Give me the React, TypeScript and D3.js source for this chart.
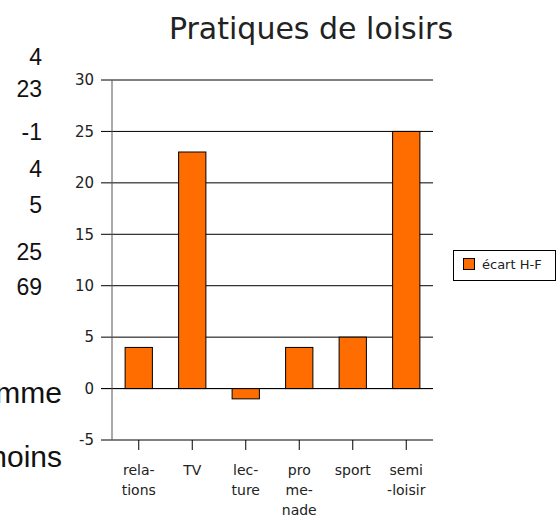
import React, { useEffect, useRef } from 'react';
import * as d3 from 'd3';

// categories (multi-line labels) and the single series
const categories = ['relations', 'TV', 'lecture', 'promenade', 'sport', 'semi-loisir'];
const categoryLines = [['rela-', 'tions'], ['TV'], ['lec-', 'ture'], ['pro', 'me-', 'nade'], ['sport'], ['semi', '-loisir']];
const ecartHF = [4, 23, -1, 4, 5, 25];
const yTicks = [-5, 0, 5, 10, 15, 20, 25, 30];

// spreadsheet cells visible on the left
const sideValues = ['4', '23', '-1', '4', '5', '25', '69'];
const sideWords = ['mme', 'noins'];

const W = 559;
const H = 516;
const font = "'DejaVu Sans', Verdana, sans-serif";

export default function App() {
  const ref = useRef<SVGSVGElement>(null);

  useEffect(() => {
    const svg = d3.select(ref.current);
    svg.selectAll('*').remove();

    // left cells, cut off by the screenshot
    const rowBase = [65, 97, 140, 177, 213, 260, 295];
    svg.append('g')
      .selectAll('text')
      .data(sideValues)
      .enter()
      .append('text')
      .attr('x', 42)
      .attr('y', (d, i) => rowBase[i])
      .attr('text-anchor', 'end')
      .style('font-family', "'Liberation Sans', Arial, sans-serif")
      .style('font-size', '23px')
      .attr('fill', '#111')
      .text(d => d);

    svg.append('g')
      .selectAll('text')
      .data(sideWords)
      .enter()
      .append('text')
      .attr('x', 62)
      .attr('y', (d, i) => [403, 467][i])
      .attr('text-anchor', 'end')
      .style('font-family', "'Liberation Sans', Arial, sans-serif")
      .style('font-size', '30px')
      .attr('fill', '#111')
      .text(d => d);

    const x = d3.scaleBand()
      .domain(categories)
      .range([112, 433])
      .paddingInner(0.49)
      .paddingOuter(0.245);

    const band = d3.scaleBand().domain(categories).range([112, 433]).padding(0);

    const y = d3.scaleLinear().domain([-5, 30]).range([440, 80]);

    // title
    svg.append('text')
      .attr('x', 311)
      .attr('y', 39)
      .attr('text-anchor', 'middle')
      .style('font-family', font)
      .style('font-size', '30px')
      .attr('fill', '#222')
      .text('Pratiques de loisirs');

    // horizontal grid + y ticks
    const grid = svg.append('g');
    grid.selectAll('line')
      .data(yTicks)
      .enter()
      .append('line')
      .attr('x1', 101)
      .attr('x2', 433)
      .attr('y1', d => y(d))
      .attr('y2', d => y(d))
      .attr('stroke', '#000')
      .attr('stroke-width', 1);

    grid.selectAll('text')
      .data(yTicks)
      .enter()
      .append('text')
      .attr('x', 94)
      .attr('y', d => y(d))
      .attr('dy', '0.35em')
      .attr('text-anchor', 'end')
      .style('font-family', font)
      .style('font-size', '15px')
      .attr('fill', '#222')
      .text(d => d);

    // bars
    svg.append('g')
      .selectAll('rect')
      .data(ecartHF)
      .enter()
      .append('rect')
      .attr('x', (d, i) => x(categories[i])!)
      .attr('width', x.bandwidth())
      .attr('y', d => y(Math.max(0, d)))
      .attr('height', d => Math.abs(y(d) - y(0)))
      .attr('fill', '#ff6d00')
      .attr('stroke', '#000')
      .attr('stroke-width', 1);

    // zero line over bars
    svg.append('line')
      .attr('x1', 101).attr('x2', 433)
      .attr('y1', y(0)).attr('y2', y(0))
      .attr('stroke', '#000');

    // y axis line
    svg.append('line')
      .attr('x1', 112).attr('x2', 112)
      .attr('y1', y(30)).attr('y2', y(-5))
      .attr('stroke', '#555');

    // category ticks + labels
    const xa = svg.append('g');
    categories.forEach((c, i) => {
      const cx = band(c)! + band.bandwidth() / 2;
      xa.append('line')
        .attr('x1', cx).attr('x2', cx)
        .attr('y1', y(-5)).attr('y2', y(-5) + 10)
        .attr('stroke', '#000');
      const t = xa.append('text')
        .attr('text-anchor', 'middle')
        .style('font-family', font)
        .style('font-size', '14px')
        .attr('fill', '#222');
      categoryLines[i].forEach((ln, k) => {
        t.append('tspan').attr('x', cx).attr('y', 475 + k * 20).text(ln);
      });
    });

    // legend
    const lg = svg.append('g');
    lg.append('rect')
      .attr('x', 453.5).attr('y', 250.5)
      .attr('width', 102).attr('height', 30)
      .attr('fill', '#fff')
      .attr('stroke', '#000');
    lg.append('rect')
      .attr('x', 463.5).attr('y', 258.5)
      .attr('width', 11).attr('height', 11)
      .attr('fill', '#ff6d00')
      .attr('stroke', '#000');
    lg.append('text')
      .attr('x', 482)
      .attr('y', 269)
      .style('font-family', font)
      .style('font-size', '13px')
      .attr('fill', '#222')
      .text('écart H-F');
  }, []);

  return (
    <svg ref={ref} width={W} height={H} style={{ position: 'absolute', left: 0, top: 0, background: '#fff' }} />
  );
}
